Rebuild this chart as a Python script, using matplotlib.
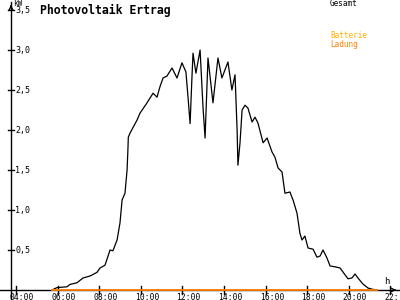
import matplotlib
matplotlib.use("Agg")
import matplotlib.pyplot as plt

# Data (hours, kW)
hours = [5.73, 5.97, 6.45, 6.60, 6.93, 7.22, 7.56, 7.89, 8.04, 8.28, 8.42, 8.52, 8.66, 8.86,
         9.00, 9.10, 9.24, 9.34, 9.38, 9.40, 9.48, 9.82, 9.96, 10.30, 10.59, 10.78, 10.92,
         11.07, 11.26, 11.50, 11.74, 11.98, 12.17, 12.27, 12.37, 12.45, 12.51, 12.65, 12.85,
         12.99, 13.09, 13.23, 13.47, 13.71, 13.90, 14.19, 14.38, 14.53, 14.63, 14.67, 14.77,
         14.87, 15.01, 15.15, 15.35, 15.49, 15.63, 15.88, 16.07, 16.31, 16.45, 16.60, 16.79,
         16.93, 17.17, 17.32, 17.51, 17.65, 17.75, 17.89, 18.04, 18.28, 18.47, 18.62, 18.76,
         18.95, 19.10, 19.34, 19.58, 19.72, 19.96, 20.15, 20.30, 20.44, 20.68, 20.92, 21.12, 21.36]
gesamt = [0.00, 0.03, 0.04, 0.07, 0.09, 0.15, 0.175, 0.22, 0.275, 0.31, 0.42, 0.50, 0.49, 0.625,
          0.84, 1.125, 1.21, 1.50, 1.75, 1.91, 1.96, 2.125, 2.21, 2.34, 2.46, 2.41, 2.54,
          2.65, 2.675, 2.775, 2.65, 2.84, 2.725, 2.41, 2.08, 2.60, 2.96, 2.71, 3.00,
          2.29, 1.90, 2.90, 2.34, 2.90, 2.65, 2.85, 2.50, 2.69, 2.00, 1.56, 1.84,
          2.25, 2.31, 2.275, 2.10, 2.16, 2.09, 1.84, 1.90, 1.725, 1.66, 1.525, 1.475,
          1.21, 1.225, 1.125, 0.96, 0.71, 0.625, 0.675, 0.525, 0.51, 0.41, 0.425, 0.50,
          0.40, 0.30, 0.29, 0.275, 0.225, 0.14, 0.15, 0.20, 0.15, 0.075, 0.025, 0.01, 0.00]
ladung_hours = [5.73, 21.36]
ladung = [0.0, 0.0]

x_ticks = [4, 6, 8, 10, 12, 14, 16, 18, 20, 22]
x_labels = ["04:00", "06:00", "08:00", "10:00", "12:00", "14:00", "16:00", "18:00", "20:00", "22:"]
y_ticks = [0.5, 1.0, 1.5, 2.0, 2.5, 3.0, 3.5]
y_labels = ["0,5", "1,0", "1,5", "2,0", "2,5", "3,0", "3,5"]

PXH = 20.8   # px per hour
PXK = 80.0   # px per kW
x0 = 4 - 16 / PXH
x1 = 4 + 384 / PXH
y0 = -10 / PXK
y1 = 290 / PXK
yax_x = 4 + (11 - 16) / PXH

fig = plt.figure(figsize=(4, 3), dpi=100)
ax = fig.add_axes([0, 0, 1, 1])
ax.set_xlim(x0, x1)
ax.set_ylim(y0, y1)
ax.axis("off")

mono = "DejaVu Sans Mono"

# axes lines
ax.plot([x0, x1 - 1 / PXH], [0, 0], color="black", lw=1)
ax.plot([yax_x, yax_x], [y0, y1 - 2 / PXK], color="black", lw=1)
# arrows
ax.annotate("", xy=(x1 - 1 / PXH, 0), xytext=(x1 - 8 / PXH, 0),
            arrowprops=dict(arrowstyle="->", color="black", lw=1, mutation_scale=7))
ax.annotate("", xy=(yax_x, y1 - 2 / PXK), xytext=(yax_x, y1 - 9 / PXK),
            arrowprops=dict(arrowstyle="->", color="black", lw=1, mutation_scale=7))

# x ticks
for t, lab in zip(x_ticks, x_labels):
    ax.plot([t, t], [-4 / PXK, 4 / PXK], color="black", lw=1)
    ax.text(t - 6 / PXH, -2.5 / PXK, lab, fontsize=5.8, family=mono, ha="left", va="top")
# y ticks
for t, lab in zip(y_ticks, y_labels):
    ax.plot([yax_x - 3 / PXH, yax_x + 3 / PXH], [t, t], color="black", lw=1)
    ax.text(yax_x + 4 / PXH, t, lab, fontsize=6, family=mono, ha="left", va="center")

# data
ax.plot(hours, gesamt, color="black", lw=0.9)
ax.plot(ladung_hours, ladung, color="#FF8000", lw=1.3)

# texts
ax.text(40 / 400, 1 - 10 / 300, "Photovoltaik Ertrag", transform=ax.transAxes,
        fontsize=8.3, family=mono, fontweight="bold", ha="left", va="center")
ax.text(13 / 400, 1 - 3.5 / 300, "kW", transform=ax.transAxes, fontsize=5.5,
        family=mono, ha="left", va="center")
ax.text(384 / 400, 1 - 282 / 300, "h", transform=ax.transAxes, fontsize=6.5,
        family=mono, ha="left", va="center")
ax.text(330 / 400, 1 - 4 / 300, "Gesamt", transform=ax.transAxes, fontsize=5.5,
        family=mono, ha="left", va="center", color="black")
ax.text(330 / 400, 1 - 36 / 300, "Batterie", transform=ax.transAxes, fontsize=5.5,
        family=mono, ha="left", va="center", color="#FFB000")
ax.text(330 / 400, 1 - 44 / 300, "Ladung", transform=ax.transAxes, fontsize=5.5,
        family=mono, ha="left", va="center", color="#FF8000")

fig.savefig("out.png", dpi=100)
